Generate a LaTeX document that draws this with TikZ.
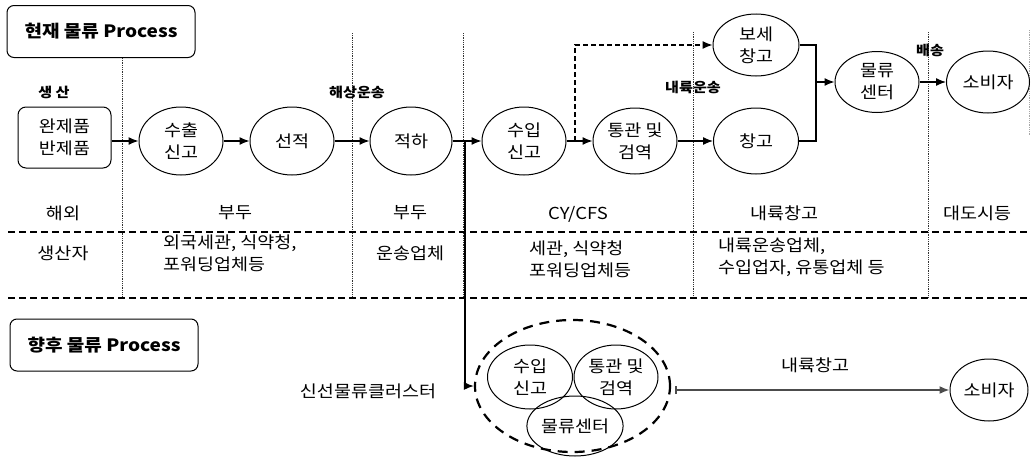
\documentclass[tikz,border=0pt]{standalone}
\usepackage{fontspec}
\setmainfont{Noto Sans CJK KR}[FakeStretch=1.12]
\usetikzlibrary{shapes.geometric,arrows.meta}
\begin{document}
\begin{tikzpicture}[x=1pt,y=-1pt,
  every node/.style={font=\fontsize{16.5}{22}\selectfont},
  proc/.style={ellipse, draw, line width=1pt, inner sep=0pt, align=center},
  lbl/.style={font=\fontsize{13.5}{16}\selectfont\bfseries},
  cell/.style={align=left, inner sep=0pt},
  conn/.style={line width=1.3pt},
  arr/.style={line width=1.3pt, -{Latex[length=10pt,width=8pt]}},
  vsep/.style={densely dotted, line width=0.8pt, black!80},
  hsep/.style={dash pattern=on 7pt off 4pt, line width=1.3pt},
  titlebox/.style={draw, rounded corners=7pt, line width=1pt, minimum width=188pt, minimum height=52pt, inner sep=0pt, font=\fontsize{17}{20}\selectfont\bfseries}]
\useasboundingbox (0,0) rectangle (1031,463);

% separators
\draw[vsep] (122,58) -- (122,297);
\draw[vsep] (352,33) -- (352,297);
\draw[vsep] (463,33) -- (463,297);
\draw[vsep] (693,32) -- (693,297);
\draw[vsep] (928,32) -- (928,297);
\draw[vsep, black!35] (1029,30) -- (1029,135);
\draw[hsep] (8,232) -- (1031,232);
\draw[hsep] (8,298) -- (1031,298);

% titles and labels
\node[titlebox] (t1) at (101,31.5) {현재 물류 Process};
\node[titlebox] (t2) at (104,345) {향후 물류 Process};
\node[lbl] (l1) at (54,92) {생 산};
\node[lbl] (l2) at (357,92) {해상운송};
\node[lbl] (l3) at (693,87) {내륙운송};
\node[lbl] (l4) at (930,50) {배송};

% current process
\node[draw, rounded corners=8pt, line width=1pt, minimum width=93pt, minimum height=61pt, inner sep=0pt, align=center] (src) at (64.5,137.5) {완제품\\반제품};
\node[proc, minimum width=84pt, minimum height=68pt] (ex) at (181,141) {수출\\신고};
\node[proc, minimum width=84pt, minimum height=68pt] (ld) at (292,141) {선적};
\node[proc, minimum width=82pt, minimum height=68pt] (uld) at (411,141) {적하};
\node[proc, minimum width=84pt, minimum height=68pt] (im) at (524,141) {수입\\신고};
\node[proc, minimum width=84pt, minimum height=66pt] (cc) at (635,141) {통관 및\\검역};
\node[proc, minimum width=85pt, minimum height=66pt] (wh) at (756,141) {창고};
\node[proc, minimum width=86pt, minimum height=62pt] (bw) at (756,45) {보세\\창고};
\node[proc, minimum width=84pt, minimum height=61pt] (dc) at (877,82) {물류\\센터};
\node[proc, minimum width=83pt, minimum height=62pt] (cons) at (988,82) {소비자};

\draw[arr] (src.east |- ex.west) -- (ex.west);
\draw[arr] (ex) -- (ld);
\draw[arr] (ld) -- (uld);
\draw[arr] (uld) -- (im);
\draw[arr] (im) -- (cc);
\draw[arr] (cc) -- (wh);
\coordinate (dv) at (575,141);
\draw[line width=1.2pt, dash pattern=on 5pt off 3pt, -{Latex[length=10pt,width=8pt]}] (dv) |- (bw.west);
\coordinate (br) at (816,82);
\draw[conn] (bw.east) -- (bw.east -| br) -- (wh.east -| br) -- (wh.east);
\draw[arr] (br) -- (dc.west);
\draw[arr] (dc) -- (cons);

% table texts
\node (r1a) at (63,213) {해외};
\node (r1b) at (235,213) {부두};
\node (r1c) at (410,213) {부두};
\node (r1d) at (578,214) {CY/CFS};
\node (r1e) at (784,213) {내륙창고};
\node (r1f) at (977,213) {대도시등};
\node (r2a) at (63,253) {생산자};
\node[cell, anchor=west] (r2b) at (163,253) {외국세관, 식약청,\\포워딩업체등};
\node (r2c) at (410,253) {운송업체};
\node[cell, anchor=west] (r2d) at (529,259) {세관, 식약청\\포워딩업체등};
\node[cell, anchor=west] (r2e) at (718,257) {내륙운송업체,\\수입업자, 유통업체 등};

% future process
\node[ellipse, draw, dash pattern=on 10pt off 7pt, line width=2.2pt, minimum width=195pt, minimum height=132pt, inner sep=0pt] (cl) at (572.5,386) {};
\node[proc, minimum width=85pt, minimum height=64pt] (fi) at (530,377) {수입\\신고};
\node[proc, minimum width=84pt, minimum height=64pt] (fc) at (616,377) {통관 및\\검역};
\node[proc, minimum width=83pt, minimum height=60pt] (fd) at (575,426) {물류센터};
\node[proc, minimum width=78pt, minimum height=62pt] (fcons) at (989,390) {소비자};
\node (fl) at (368,391) {신선물류클러스터};
\node (fw) at (815,365) {내륙창고};

\coordinate (tj) at (465,141);
\coordinate (tb) at (465,386);
\draw[line width=1.8pt] (tj) -- (tb);
\draw[arr] (tb) -- (cl.west);
\coordinate (fs) at (675,390);
\draw[line width=1.6pt, black!70, {Bar[width=8pt]}-{Latex[length=10pt,width=8pt]}] (fs) -- (fcons.west);
\end{tikzpicture}
\end{document}
